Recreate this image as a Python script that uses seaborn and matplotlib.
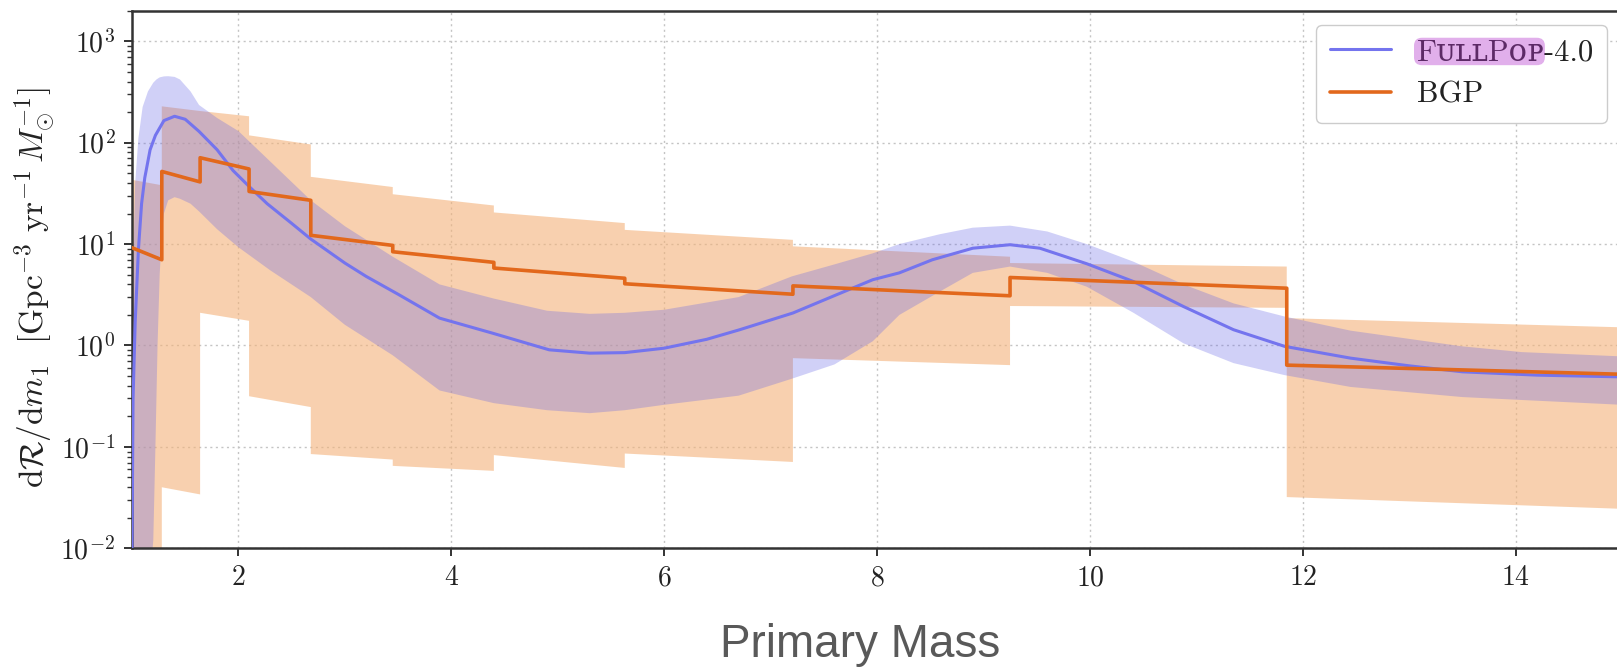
import numpy as np
import matplotlib
matplotlib.use("Agg")
import matplotlib.pyplot as plt
from matplotlib.ticker import LogLocator, NullFormatter, FixedLocator, FixedFormatter
from matplotlib.patches import FancyBboxPatch
from matplotlib.lines import Line2D
import seaborn as sns

# ---------------- data ----------------
# FullPop-4.0 median
fp_mass = [1.0, 1.01, 1.03, 1.06, 1.09, 1.12, 1.17, 1.22, 1.3, 1.4, 1.5, 1.63, 1.8, 1.95,
           2.1, 2.27, 2.5, 2.68, 3.0, 3.2, 3.5, 3.89, 4.39, 4.92, 5.3, 5.63, 6.0, 6.4, 6.71,
           7.21, 7.6, 7.96, 8.21, 8.52, 8.9, 9.25, 9.53, 9.97, 10.41, 10.88, 11.35, 11.83,
           12.45, 13.0, 13.5, 14.2, 15.0]
fp_median = [0.01, 0.3, 1.7, 8.7, 25, 45, 85, 118, 165, 182, 170, 129, 85, 53,
             37, 25, 16, 11.2, 6.5, 4.8, 3.2, 1.86, 1.32, 0.906, 0.84, 0.85, 0.94, 1.15, 1.43,
             2.09, 3.1, 4.45, 5.2, 7.0, 9.1, 9.85, 9.1, 6.4, 4.27, 2.42, 1.43, 0.98,
             0.75, 0.63, 0.55, 0.51, 0.49]

# FullPop-4.0 band, upper edge
fp_up_mass = [1.0, 1.03, 1.06, 1.1, 1.15, 1.2, 1.23, 1.26, 1.3, 1.34, 1.4, 1.45, 1.55, 1.63,
              1.8, 2.0, 2.3, 2.68, 3.0, 3.45, 3.89, 4.4, 4.9, 5.3, 5.63, 6.0, 6.7, 7.2, 7.6,
              7.96, 8.21, 8.59, 8.9, 9.25, 9.6, 9.97, 10.41, 10.88, 11.35, 11.83, 12.45,
              13.5, 14.06, 15.0]
fp_upper = [2, 40, 110, 225, 320, 390, 420, 440, 450, 452, 445, 420, 320, 235,
            175, 130, 65, 27, 15, 7.5, 4.0, 2.9, 2.2, 2.05, 2.1, 2.25, 3.0, 4.8, 6.3,
            8.1, 10, 12.5, 14.5, 15.2, 13.3, 10, 6.7, 4.0, 2.6, 1.93, 1.4,
            0.98, 0.86, 0.78]

# FullPop-4.0 band, lower edge
fp_lo_mass = [1.0, 1.1, 1.17, 1.2, 1.22, 1.24, 1.26, 1.28, 1.3, 1.34, 1.4, 1.45, 1.55, 1.63,
              1.8, 2.0, 2.3, 2.68, 3.0, 3.45, 3.89, 4.4, 4.9, 5.3, 5.63, 6.0, 6.7, 7.2, 7.6,
              7.96, 8.21, 8.59, 8.9, 9.25, 9.6, 9.97, 10.41, 10.88, 11.35, 11.83, 12.45,
              13.5, 14.06, 15.0]
fp_lower = [1e-4, 2e-4, 0.005, 0.012, 0.1, 1.0, 5.0, 12, 20, 27, 29, 28, 25, 21,
            14, 9.3, 5.5, 3.0, 1.6, 0.8, 0.36, 0.27, 0.23, 0.215, 0.23, 0.26, 0.32, 0.47, 0.65,
            1.1, 2.0, 3.4, 5.2, 6.0, 5.2, 3.8, 2.1, 1.05, 0.67, 0.51, 0.39,
            0.31, 0.29, 0.26]

# BGP: bin edges, and value at the start / end of each bin
bgp_edges = [1.0, 1.28, 1.64, 2.10, 2.68, 3.45, 4.40, 5.63, 7.21, 9.25, 11.85, 15.0]
bgp_med_start = [9.2, 52, 71, 33, 12.2, 8.4, 5.8, 4.06, 3.87, 4.68, 0.64]
bgp_med_end = [7.0, 41, 55, 27, 9.7, 6.6, 4.6, 3.2, 3.09, 3.67, 0.52]
bgp_up_start = [43, 228, 205, 118, 46, 31, 20.5, 13.8, 9.5, 6.5, 1.86]
bgp_up_end = [38, 205, 182, 96, 36.5, 24, 16.1, 11.0, 7.5, 6.0, 1.51]
bgp_lo_start = [1e-4, 0.040, 2.1, 0.316, 0.085, 0.065, 0.083, 0.086, 0.75, 2.45, 0.032]
bgp_lo_end = [1e-4, 0.034, 1.75, 0.247, 0.075, 0.058, 0.062, 0.071, 0.64, 2.35, 0.0245]

legend_labels = ["FᴜʟʟPᴏᴘ-4.0", "BGP"]
highlight_part = "FᴜʟʟPᴏᴘ"
x_ticks = [2, 4, 6, 8, 10, 12, 14]
y_ticks = [1e-2, 1e-1, 1e0, 1e1, 1e2, 1e3]
y_tick_labels = [r"$10^{-2}$", r"$10^{-1}$", r"$10^{0}$", r"$10^{1}$", r"$10^{2}$", r"$10^{3}$"]
y_label = (r"$\mathrm{d}\mathcal{R}/\mathrm{d}m_1\ \ [\mathrm{Gpc}^{-3}\ \mathrm{yr}^{-1}\,"
           r"M_{\odot}^{-1}]$")
x_title = "Primary Mass"


def steps(edges, start, end):
    xs, ys = [], []
    for i in range(len(start)):
        xs += [edges[i], edges[i + 1]]
        ys += [start[i], end[i]]
    return np.array(xs), np.array(ys)


# ---------------- style ----------------
sns.set_theme(style="white")
plt.rcParams["mathtext.fontset"] = "cm"
plt.rcParams["font.family"] = ["cmr10", "DejaVu Serif", "DejaVu Sans"]
plt.rcParams["axes.formatter.use_mathtext"] = True

BLUE_LINE = "#7474ee"
BLUE_FILL = "#6464e6"
ORANGE_LINE = "#e2681c"
ORANGE_FILL = "#f4b27a"

fig = plt.figure(figsize=(16.17, 6.70), dpi=100)
ax = fig.add_axes([132 / 1617, 1 - 548.3 / 670, (1622 - 132) / 1617, (548.3 - 10.7) / 670])

ax.set_yscale("log")

# BGP band
bx, bu = steps(bgp_edges, bgp_up_start, bgp_up_end)
_, bl = steps(bgp_edges, bgp_lo_start, bgp_lo_end)
ax.fill(np.concatenate([bx, bx[::-1]]), np.concatenate([bu, bl[::-1]]),
        color=ORANGE_FILL, alpha=0.6, lw=0, zorder=1)

# FullPop band
ax.fill(np.concatenate([fp_up_mass, fp_lo_mass[::-1]]),
        np.concatenate([fp_upper, fp_lower[::-1]]),
        color=BLUE_FILL, alpha=0.3, lw=0, zorder=2)

# lines
sns.lineplot(x=fp_mass, y=fp_median, ax=ax, color=BLUE_LINE, lw=2.2,
             estimator=None, sort=False, zorder=3)
mx, my = steps(bgp_edges, bgp_med_start, bgp_med_end)
sns.lineplot(x=mx, y=my, ax=ax, color=ORANGE_LINE, lw=2.6,
             estimator=None, sort=False, zorder=4)

# axes
ax.set_xlim(1, 15)
ax.set_ylim(1e-2, 2000)
ax.xaxis.set_major_locator(FixedLocator(x_ticks))
ax.xaxis.set_major_formatter(FixedFormatter([f"${v}$" for v in x_ticks]))
ax.yaxis.set_major_locator(FixedLocator(y_ticks))
ax.yaxis.set_major_formatter(FixedFormatter(y_tick_labels))
ax.yaxis.set_minor_locator(LogLocator(base=10, subs=np.arange(2, 10) * 1.0, numticks=30))
ax.yaxis.set_minor_formatter(NullFormatter())
ax.grid(True, which="major", ls=(0, (1.5, 2.5)), color="#c4c4c4", lw=1.0, zorder=0)
ax.set_axisbelow(True)

for s in ["left", "bottom", "top"]:
    ax.spines[s].set_color("#333333")
    ax.spines[s].set_linewidth(1.8)
ax.spines["right"].set_visible(False)

ax.tick_params(axis="both", which="major", labelsize=20, length=6, width=1.4,
               color="#333333", labelcolor="#222222", pad=6, direction="out")
ax.tick_params(axis="y", which="minor", length=3.5, width=1.0, color="#333333", left=True)
ax.tick_params(axis="x", which="both", top=False, bottom=True)
ax.tick_params(axis="y", which="both", right=False, left=True)

ax.set_xlabel("")
ax.set_ylabel(y_label, fontsize=24, color="#222222")
ax.yaxis.set_label_coords(-0.05, 0.485)

fig.text(860 / 1617, 1 - 657 / 670, x_title, fontsize=33, family="Liberation Sans",
         color="#595959", ha="center", va="baseline")

# legend
handles = [Line2D([], [], color=BLUE_LINE, lw=2.2), Line2D([], [], color=ORANGE_LINE, lw=2.6)]
leg = ax.legend(handles, legend_labels, loc="upper right",
                bbox_to_anchor=(1607 / 1617, 1 - 25 / 670), bbox_transform=fig.transFigure,
                borderaxespad=0, fontsize=22, handlelength=2.0, handletextpad=0.85,
                borderpad=0.45, labelspacing=0.5, frameon=True, fancybox=True,
                edgecolor="#cccccc", facecolor="white", framealpha=1)
leg.get_frame().set_linewidth(1.0)
for t in leg.get_texts():
    t.set_color("#222222")

# highlight behind part of the first legend entry
fig.canvas.draw()
renderer = fig.canvas.get_renderer()
t0 = leg.get_texts()[0]
bb = t0.get_window_extent(renderer)
tmp = fig.text(0, 0, highlight_part, fontproperties=t0.get_fontproperties())
wpart = tmp.get_window_extent(renderer).width
tmp.remove()
hx0 = bb.x0 - 3
hx1 = bb.x0 + wpart + 1
patch = FancyBboxPatch((hx0, bb.y0 + 1), hx1 - hx0, bb.height,
                       boxstyle="round,pad=0,rounding_size=8",
                       transform=None, fc="#b437cd", ec="none", alpha=0.4, zorder=10)
fig.patches.append(patch)
patch.set_figure(fig)

fig.savefig("out.png", dpi=100)
